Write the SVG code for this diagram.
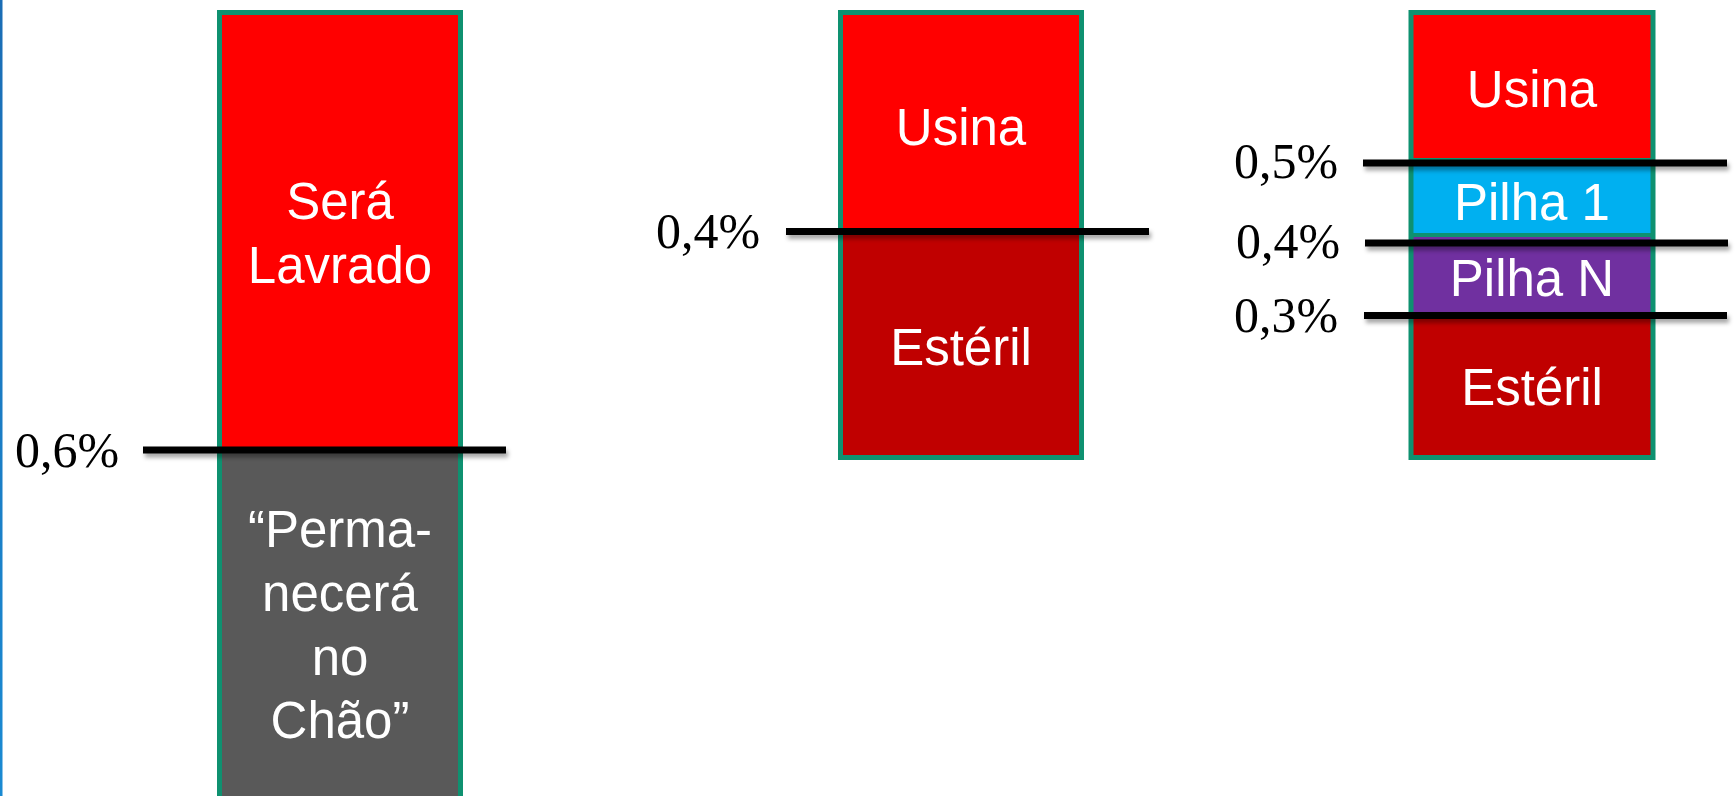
<svg xmlns="http://www.w3.org/2000/svg" width="1736" height="796" viewBox="0 0 1736 796">
<defs>
<filter id="sh" filterUnits="userSpaceOnUse" x="0" y="0" width="1736" height="796">
<feDropShadow dx="2" dy="4" stdDeviation="2" flood-color="#000" flood-opacity="0.35"/>
</filter>
<linearGradient id="edge" x1="0" y1="0" x2="0" y2="1">
<stop offset="0" stop-color="#1a6db5"/>
<stop offset="1" stop-color="#1a8ad2"/>
</linearGradient>
</defs>
<style>
.frame{fill:none;stroke:#0e9170;stroke-width:5}
.lbl{font-family:"Liberation Sans",Arial,sans-serif;font-size:51px;fill:#fff;text-anchor:middle}
.pct{font-family:"Liberation Serif","Times New Roman",serif;font-size:50px;fill:#000}
.cut{stroke:#000;stroke-width:7;filter:url(#sh)}
</style>
<rect width="1736" height="796" fill="#fff"/>
<rect x="0" y="0" width="2.5" height="796" fill="url(#edge)"/>

<g id="col1">
<rect x="219.5" y="12.5" width="241" height="438" fill="#ff0000"/>
<rect x="219.5" y="450" width="241" height="370" fill="#595959"/>
<rect class="frame" x="219.5" y="12.5" width="241" height="810"/>
<text class="lbl" x="340" y="219">Será</text>
<text class="lbl" x="340" y="283">Lavrado</text>
<text class="lbl" x="340" y="547">“Perma-</text>
<text class="lbl" x="340" y="611">necerá</text>
<text class="lbl" x="340" y="675">no</text>
<text class="lbl" x="340" y="738">Chão”</text>
</g>

<g id="col2">
<rect x="840.5" y="12.5" width="241" height="219" fill="#ff0000"/>
<rect x="840.5" y="231.5" width="241" height="226" fill="#c00000"/>
<rect class="frame" x="840.5" y="12.5" width="241" height="445"/>
<text class="lbl" x="961" y="145">Usina</text>
<text class="lbl" x="961" y="365">Estéril</text>
</g>

<g id="col3">
<rect x="1411" y="12.5" width="242" height="151" fill="#ff0000"/>
<rect x="1411" y="163" width="242" height="74" fill="#00b0f0"/>
<rect x="1411" y="237" width="242" height="79" fill="#7030a0"/>
<rect x="1411" y="315.5" width="242" height="142" fill="#c00000"/>
<rect class="frame" x="1411" y="160" width="242" height="75" style="stroke-width:4"/>
<rect class="frame" x="1411" y="12.5" width="242" height="445"/>
<text class="lbl" x="1532" y="107">Usina</text>
<text class="lbl" x="1532" y="220">Pilha 1</text>
<text class="lbl" x="1532" y="296">Pilha N</text>
<text class="lbl" x="1532" y="405">Estéril</text>
</g>

<g id="connectors">
<line class="cut" x1="143" y1="450" x2="506" y2="450"/>
<line class="cut" x1="786" y1="231.5" x2="1149" y2="231.5"/>
<line class="cut" x1="1363" y1="163" x2="1727" y2="163"/>
<line class="cut" x1="1365" y1="243" x2="1728" y2="243"/>
<line class="cut" x1="1364" y1="315.5" x2="1727" y2="315.5"/>
</g>

<g id="labels">
<text class="pct" x="15" y="467">0,6%</text>
<text class="pct" x="656" y="248">0,4%</text>
<text class="pct" x="1234" y="178">0,5%</text>
<text class="pct" x="1236" y="258">0,4%</text>
<text class="pct" x="1234" y="332">0,3%</text>
</g>
</svg>
